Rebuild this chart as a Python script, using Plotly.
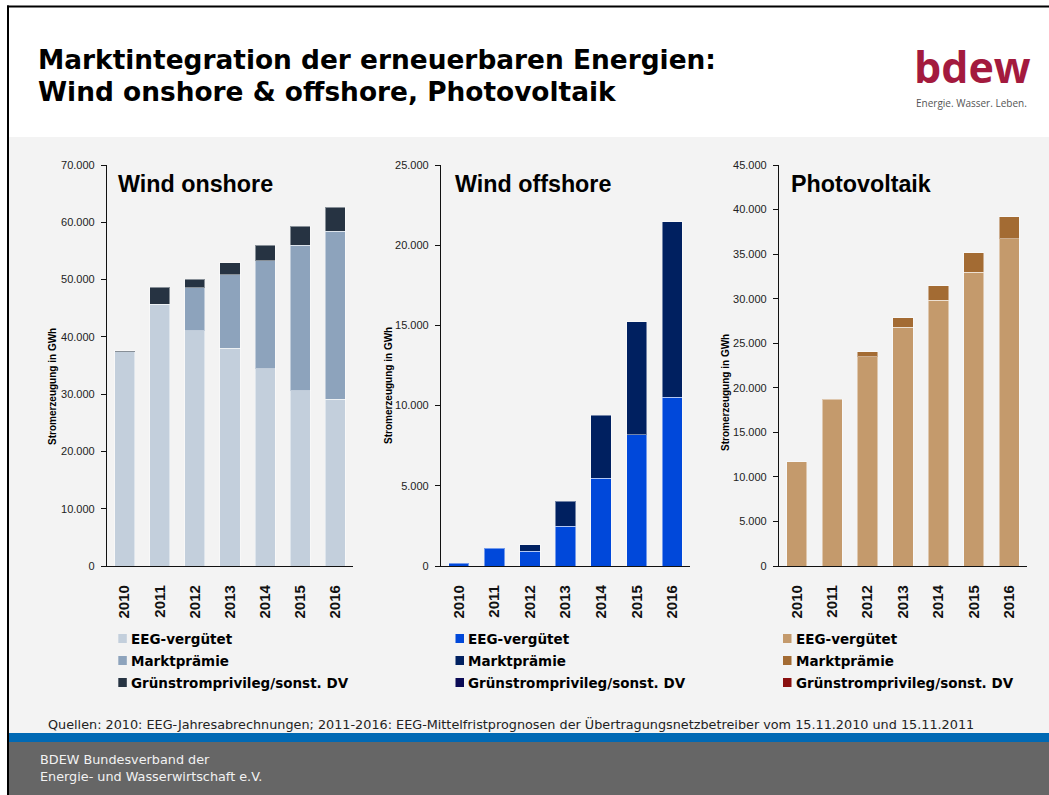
import plotly.graph_objects as go

# ---------------- data ----------------
years = ["2010", "2011", "2012", "2013", "2014", "2015", "2016"]
series_names = ["EEG-vergütet", "Marktprämie", "Grünstromprivileg/sonst. DV"]

onshore_eeg = [37400, 45700, 41100, 38000, 34400, 30600, 29100]
onshore_mp = [None, None, 7500, 12800, 18900, 25400, 29300]
onshore_gr = [150, 3000, 1500, 2100, 2700, 3300, 4200]

offshore_eeg = [170, 1120, 910, 2470, 5470, 8170, 10520]
offshore_mp = [None, None, 420, 1580, 3940, 7060, 10950]
offshore_gr = [None, None, None, None, None, None, None]

pv_eeg = [11700, 18700, 23460, 26820, 29850, 32960, 36700]
pv_mp = [None, None, 560, 1050, 1580, 2210, 2500]
pv_gr = [None, None, None, None, None, None, None]

onshore_colors = ["#c3cfdc", "#8da3bc", "#263342"]
offshore_colors = ["#0048da", "#002060", "#0a0a55"]
pv_colors = ["#c49a6c", "#a36b33", "#8a1010"]

W, H = 1049, 795


def fx(p):
    return p / W


def fy(p):
    return 1 - p / H


panels = [
    dict(title="Wind onshore", series=[onshore_eeg, onshore_mp, onshore_gr], colors=onshore_colors,
         ymax=70000, dtick=10000, x0=107, x1=353, title_x=116, ytitle_x=52, ytitle_y=387,
         sq_x=118.3, txt_x=130),
    dict(title="Wind offshore", series=[offshore_eeg, offshore_mp, offshore_gr], colors=offshore_colors,
         ymax=25000, dtick=5000, x0=441, x1=690, title_x=453, ytitle_x=388, ytitle_y=386,
         sq_x=455.5, txt_x=467),
    dict(title="Photovoltaik", series=[pv_eeg, pv_mp, pv_gr], colors=pv_colors,
         ymax=45000, dtick=5000, x0=779, x1=1027, title_x=789, ytitle_x=725, ytitle_y=393,
         sq_x=783, txt_x=794.5),
]

PLOT_TOP, PLOT_BOTTOM = 165, 566

fig = go.Figure()
layout_axes = {}
annotations = []
shapes = []

# page background shapes
shapes.append(dict(type="rect", xref="paper", yref="paper", x0=fx(9), x1=1, y0=fy(733), y1=fy(137),
                   fillcolor="#f3f3f3", line_width=0, layer="below"))
shapes.append(dict(type="rect", xref="paper", yref="paper", x0=fx(9), x1=1, y0=fy(742), y1=fy(733),
                   fillcolor="#0069b4", line_width=0, layer="below"))
shapes.append(dict(type="rect", xref="paper", yref="paper", x0=fx(9), x1=1, y0=0, y1=fy(742),
                   fillcolor="#666666", line_width=0, layer="below"))
shapes.append(dict(type="line", xref="paper", yref="paper", x0=fx(8), x1=fx(8), y0=0, y1=fy(5.5),
                   line=dict(color="black", width=2)))
shapes.append(dict(type="line", xref="paper", yref="paper", x0=fx(7), x1=1, y0=fy(6.5), y1=fy(6.5),
                   line=dict(color="black", width=2)))

legend_rows = [638.5, 660.5, 682.5]

for i, p in enumerate(panels):
    sfx = "" if i == 0 else str(i + 1)
    for k, vals in enumerate(p["series"]):
        fig.add_trace(go.Bar(
            x=years, y=vals, name=series_names[k],
            marker=dict(color=p["colors"][k], line=dict(color="rgba(255,255,255,0.45)", width=1)),
            xaxis="x" + sfx, yaxis="y" + sfx, showlegend=False,
        ))
    layout_axes["xaxis" + sfx] = dict(
        domain=[fx(p["x0"]), fx(p["x1"])], anchor="y" + sfx, type="category",
        range=[-0.5, 6.5], showline=True, linecolor="#111111", linewidth=1.2,
        ticks="outside", ticklen=12, tickcolor="rgba(0,0,0,0)", tickangle=-90,
        tickfont=dict(family="Liberation Sans", size=15, color="#111111", weight="bold"),
        showgrid=False, zeroline=False, fixedrange=True, automargin=False,
    )
    layout_axes["yaxis" + sfx] = dict(
        domain=[fy(PLOT_BOTTOM), fy(PLOT_TOP)], anchor="x" + sfx,
        range=[0, p["ymax"]], dtick=p["dtick"], tick0=0, tickformat=",d",
        showline=True, linecolor="#111111", linewidth=1.2,
        ticks="outside", ticklen=5, tickcolor="#111111", ticklabelstandoff=4,
        tickfont=dict(family="Liberation Sans", size=11, color="#222222"),
        showgrid=False, zeroline=False, fixedrange=True, automargin=False,
    )
    # panel title
    annotations.append(dict(text="<b>%s</b>" % p["title"], xref="paper", yref="paper",
                            x=fx(p["title_x"]), y=fy(184), xanchor="left", yanchor="middle",
                            showarrow=False, font=dict(family="Liberation Sans", size=23.3, color="black")))
    # y axis title
    annotations.append(dict(text="<b>Stromerzeugung in GWh</b>", xref="paper", yref="paper",
                            x=fx(p["ytitle_x"]), y=fy(p["ytitle_y"]), xanchor="center", yanchor="middle",
                            textangle=-90, showarrow=False,
                            font=dict(family="Liberation Sans", size=10, color="black")))
    # legend
    for k, name in enumerate(series_names):
        cy = legend_rows[k]
        shapes.append(dict(type="rect", xref="paper", yref="paper",
                           x0=fx(p["sq_x"]), x1=fx(p["sq_x"] + 8.5), y0=fy(cy + 4.5), y1=fy(cy - 4.5),
                           fillcolor=p["colors"][k], line_width=0))
        annotations.append(dict(text="<b>%s</b>" % name, xref="paper", yref="paper",
                                x=fx(p["txt_x"] - 1), y=fy(cy), xanchor="left", yanchor="middle",
                                showarrow=False,
                                font=dict(family="DejaVu Sans", size=13.5, color="black")))

# main title
annotations.append(dict(text="<b>Marktintegration der erneuerbaren Energien:</b>", xref="paper", yref="paper",
                        x=fx(36), y=fy(59.5), xanchor="left", yanchor="middle", showarrow=False,
                        font=dict(family="DejaVu Sans", size=26.4, color="black")))
annotations.append(dict(text="<b>Wind onshore &amp; offshore, Photovoltaik</b>", xref="paper", yref="paper",
                        x=fx(36), y=fy(92), xanchor="left", yanchor="middle", showarrow=False,
                        font=dict(family="DejaVu Sans", size=26.4, color="black")))
# logo
annotations.append(dict(text="<b>bdew</b>", xref="paper", yref="paper", x=fx(972), y=fy(67),
                        xanchor="center", yanchor="middle", showarrow=False,
                        font=dict(family="Open Sans", size=43, color="#a31a3e")))
annotations.append(dict(text="Energie. Wasser. Leben.", xref="paper", yref="paper", x=fx(971), y=fy(103),
                        xanchor="center", yanchor="middle", showarrow=False,
                        font=dict(family="Open Sans", size=10, color="#555555")))
# source
annotations.append(dict(text="Quellen: 2010: EEG-Jahresabrechnungen; 2011-2016: EEG-Mittelfristprognosen der "
                             "Übertragungsnetzbetreiber vom 15.11.2010 und 15.11.2011",
                        xref="paper", yref="paper", x=fx(46), y=fy(724), xanchor="left", yanchor="middle",
                        showarrow=False, font=dict(family="DejaVu Sans", size=12.8, color="#222222")))
# footer
annotations.append(dict(text="BDEW Bundesverband der", xref="paper", yref="paper", x=fx(38), y=fy(759),
                        xanchor="left", yanchor="middle", showarrow=False,
                        font=dict(family="DejaVu Sans", size=12.8, color="#f2f2f2")))
annotations.append(dict(text="Energie- und Wasserwirtschaft e.V.", xref="paper", yref="paper", x=fx(38),
                        y=fy(776), xanchor="left", yanchor="middle", showarrow=False,
                        font=dict(family="DejaVu Sans", size=12.8, color="#f2f2f2")))

fig.update_layout(
    width=W, height=H, margin=dict(l=0, r=0, t=0, b=0, pad=0, autoexpand=False), autosize=False,
    paper_bgcolor="white", plot_bgcolor="rgba(0,0,0,0)",
    barmode="stack", bargap=0.43, separators=",.",
    showlegend=False, shapes=shapes, annotations=annotations,
    font=dict(family="Liberation Sans"),
    **layout_axes,
)

fig.write_html(
    "out.html",
    config={"displayModeBar": False, "responsive": False},
    post_script=("var s=document.createElement('style');"
                 "s.innerHTML='html,body{margin:0!important;padding:0!important;overflow:hidden!important;"
                 "scrollbar-width:none;}::-webkit-scrollbar{display:none;width:0;height:0;}';"
                 "document.head.appendChild(s);"),
)
